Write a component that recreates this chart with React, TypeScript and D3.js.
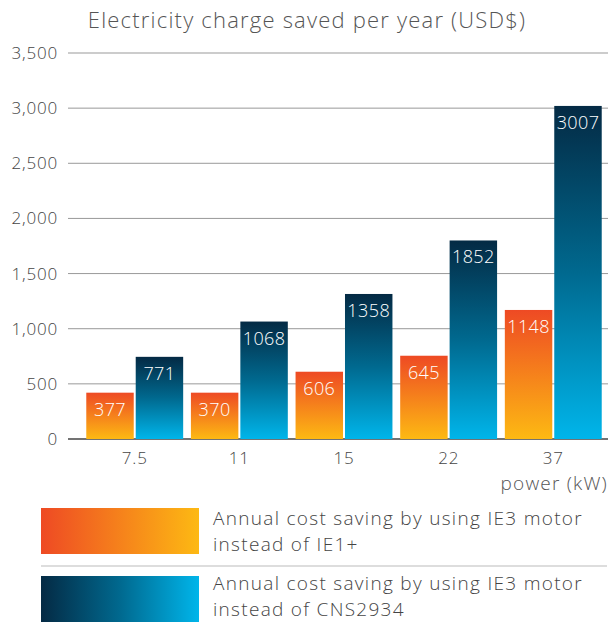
import * as d3 from 'd3'

const powers = ['7.5', '11', '15', '22', '37']
// bar heights as drawn, and the numbers printed on the bars
const ie1Heights = [420, 420, 610, 755, 1170]
const ie1Labels = ['377', '370', '606', '645', '1148']
const cnsHeights = [745, 1065, 1315, 1800, 3020]
const cnsLabels = ['771', '1068', '1358', '1852', '3007']
const yTicks = [0, 500, 1000, 1500, 2000, 2500, 3000, 3500]
const legendLines = [
  ['Annual cost saving by using IE3 motor', 'instead of IE1+'],
  ['Annual cost saving by using IE3 motor', 'instead of CNS2934'],
]

const width = 610
const height = 622
const left = 68
const right = 608
const font = '"Open Sans", "Liberation Sans", Arial, sans-serif'

export default function App() {
  const y = d3.scaleLinear().domain([0, 3500]).range([439, 53])
  const x = d3.scaleBand<string>().domain(powers).range([80, right]).paddingInner(0.074).paddingOuter(0.06)
  const x1 = d3.scaleBand<number>().domain([0, 1]).range([0, x.bandwidth()]).paddingInner(0.04)
  const fmt = d3.format(',')

  const series = [
    { heights: ie1Heights, labels: ie1Labels, grad: 'url(#orangeV)' },
    { heights: cnsHeights, labels: cnsLabels, grad: 'url(#blueV)' },
  ]

  return (
    <svg width={width} height={height} style={{ position: 'absolute', left: 0, top: 0, fontFamily: font, fontWeight: 300 }}>
      <defs>
        <linearGradient id="orangeV" x1="0" y1="0" x2="0" y2="1">
          <stop offset="0" stopColor="#ee4a24" />
          <stop offset="1" stopColor="#fdb913" />
        </linearGradient>
        <linearGradient id="blueV" x1="0" y1="0" x2="0" y2="1">
          <stop offset="0" stopColor="#042a44" />
          <stop offset="0.5" stopColor="#00698f" />
          <stop offset="1" stopColor="#00b5ea" />
        </linearGradient>
        <linearGradient id="orangeH" x1="0" y1="0" x2="1" y2="0">
          <stop offset="0" stopColor="#ee4a24" />
          <stop offset="1" stopColor="#fdb913" />
        </linearGradient>
        <linearGradient id="blueH" x1="0" y1="0" x2="1" y2="0">
          <stop offset="0" stopColor="#042a44" />
          <stop offset="0.5" stopColor="#00698f" />
          <stop offset="1" stopColor="#00b5ea" />
        </linearGradient>
      </defs>

      <text x={width / 2 + 2} y={28} textAnchor="middle" fontSize={22} letterSpacing={1.2} fill="#555">
        Electricity charge saved per year (USD$)
      </text>

      {yTicks.map(t => (
        <g key={t}>
          <line x1={left} x2={right} y1={y(t)} y2={y(t)} stroke={t === 0 ? '#444' : '#999'} strokeWidth={t === 0 ? 1.5 : 1} />
          <text x={58} y={y(t) + 6} textAnchor="end" fontSize={17} letterSpacing={0.8} fill="#444">{fmt(t)}</text>
        </g>
      ))}

      {powers.map((p, i) => (
        <g key={p} transform={`translate(${x(p)},0)`}>
          {series.map((s, j) => (
            <g key={j}>
              <rect x={x1(j)} y={y(s.heights[i])} width={x1.bandwidth()} height={y(0) - y(s.heights[i])} fill={s.grad} />
              <text x={x1(j)! + x1.bandwidth() / 2} y={y(s.heights[i]) + 23} textAnchor="middle" fontSize={18} letterSpacing={0.4} fill="#fff">
                {s.labels[i]}
              </text>
            </g>
          ))}
          <text x={x.bandwidth() / 2} y={464} textAnchor="middle" fontSize={17} letterSpacing={0.8} fill="#444">{p}</text>
        </g>
      ))}

      <text x={608} y={490} textAnchor="end" fontSize={19} letterSpacing={1.2} fill="#555">power (kW)</text>

      <rect x={41} y={508} width={158} height={46} fill="url(#orangeH)" />
      <line x1={41} x2={607} y1={566} y2={566} stroke="#bbb" strokeWidth={1} />
      <rect x={41} y={576} width={158} height={46} fill="url(#blueH)" />
      {legendLines.map((lines, k) => (
        <text key={k} fontSize={19} letterSpacing={1.3} fill="#444">
          {lines.map((l, m) => (
            <tspan key={m} x={213} y={525 + k * 65 + m * 26}>{l}</tspan>
          ))}
        </text>
      ))}
    </svg>
  )
}
